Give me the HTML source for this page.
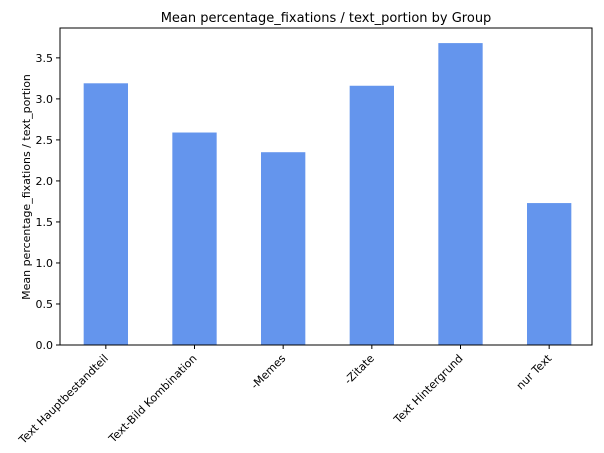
<!DOCTYPE html>
<html><head><meta charset="utf-8"><style>
body{margin:0;background:#fff;}
svg{display:block;font-family:"DejaVu Sans","Liberation Sans",sans-serif;}
</style></head><body>
<svg id="chart" width="604" height="453">
<text x="326" y="22" text-anchor="middle" font-size="13">Mean percentage_fixations / text_portion by Group</text>
<text transform="translate(30,187) rotate(-90)" text-anchor="middle" font-size="11">Mean percentage_fixations / text_portion</text>
<g id="bars"></g><g id="yticks"></g><g id="xticks"></g>
<rect x="60" y="28" width="532" height="317" fill="none" stroke="#000" stroke-width="1"/>
</svg>
<script>
const categories=["Text Hauptbestandteil","Text-Bild Kombination","-Memes","-Zitate","Text Hintergrund","nur Text"];
const values=[3.19,2.59,2.35,3.16,3.68,1.73];
const yTicks=[0,0.5,1.0,1.5,2.0,2.5,3.0,3.5];
const L=60,R=592,T=28,B=345,yMax=3.864;
const ns="http://www.w3.org/2000/svg";
const ys=v=>B-(v/yMax)*(B-T);
const step=(R-L)/categories.length;
const xs=i=>L+step*(i+0.5)+1.5;
const bars=document.getElementById('bars'),yt=document.getElementById('yticks'),xt=document.getElementById('xticks');
function mk(t,a){const e=document.createElementNS(ns,t);for(const k in a)e.setAttribute(k,a[k]);return e;}
values.forEach((v,i)=>{
 const r=mk('rect',{x:xs(i)-step*0.25,y:ys(v),width:step*0.5,height:B-ys(v),fill:'#6495ed'});
 
 
 bars.appendChild(r);
 const tk=mk('line',{x1:xs(i),x2:xs(i),y1:B,y2:B+4,stroke:'#000'});
 
 
 xt.appendChild(tk);
 const tx=mk('text',{x:xs(i)+3,y:B+14,'text-anchor':'end','font-size':'11',transform:`rotate(-45 ${xs(i)+3} ${B+14})`});
 tx.textContent=categories[i];
 
 
 xt.appendChild(tx);
});
yTicks.forEach(v=>{
 const tk=mk('line',{x1:L-4,x2:L,y1:ys(v),y2:ys(v),stroke:'#000'});
 
 
 yt.appendChild(tk);
 const tx=mk('text',{x:L-7,y:ys(v)+4,'text-anchor':'end','font-size':'11'});
 tx.textContent=v.toFixed(1);
 
 
 yt.appendChild(tx);
});
</script>
</body></html>
